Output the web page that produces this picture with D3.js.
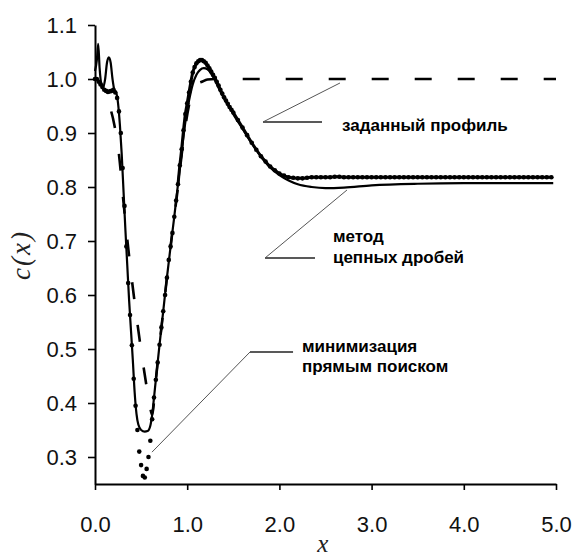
<!DOCTYPE html>
<html><head><meta charset="utf-8">
<script src="https://cdn.jsdelivr.net/npm/d3@7"></script>
<style>
html,body{margin:0;padding:0;background:#fff;}
svg{display:block;}
</style></head>
<body>
<svg id="chart" width="573" height="559"></svg>
<script>
// ---------- data ----------
const xTickValues = [0, 1, 2, 3, 4, 5];
const yTickValues = [0.3, 0.4, 0.5, 0.6, 0.7, 0.8, 0.9, 1.0, 1.1];

// given profile (dashed)
const profileX = [0, 0.05, 0.10, 0.15, 0.21, 0.26, 0.31, 0.37, 0.42, 0.49, 0.56, 0.60, 0.62, 0.66, 0.70, 0.74, 0.78, 0.82, 0.86, 0.90, 0.94, 0.98, 1.02, 1.06, 1.10, 1.16, 1.22, 1.30, 2.0, 3.0, 4.0, 5.0];
const profileC = [1.0, 0.995, 0.98, 0.955, 0.915, 0.86, 0.77, 0.672, 0.60, 0.51, 0.43, 0.39, 0.378, 0.443, 0.508, 0.57, 0.632, 0.69, 0.745, 0.80, 0.86, 0.912, 0.952, 0.978, 0.99, 0.995, 0.999, 1.0, 1.0, 1.0, 1.0, 1.0];

// continued fractions method (solid)
const fracX = [0, 0.02, 0.035, 0.05, 0.07, 0.09, 0.11, 0.13, 0.15, 0.17, 0.19, 0.21, 0.23, 0.25, 0.27, 0.29, 0.31, 0.33, 0.35, 0.37, 0.39, 0.41, 0.43, 0.45, 0.47, 0.50, 0.54, 0.57, 0.60, 0.62, 0.64, 0.66, 0.70, 0.74, 0.78, 0.82, 0.86, 0.90, 0.94, 0.98, 1.02, 1.06, 1.10, 1.14, 1.18, 1.22, 1.26, 1.30, 1.35, 1.40, 1.45, 1.50, 1.60, 1.70, 1.80, 1.90, 2.00, 2.10, 2.20, 2.35, 2.50, 2.70, 3.00, 3.50, 4.00, 4.50, 4.97];
const fracC = [1.015, 1.035, 1.065, 1.02, 0.99, 0.985, 1.0, 1.03, 1.04, 1.03, 1.0, 0.98, 0.975, 0.955, 0.915, 0.86, 0.79, 0.72, 0.655, 0.59, 0.535, 0.48, 0.42, 0.38, 0.36, 0.35, 0.347, 0.348, 0.358, 0.378, 0.41, 0.443, 0.508, 0.57, 0.632, 0.69, 0.745, 0.805, 0.865, 0.92, 0.96, 0.99, 1.008, 1.017, 1.02, 1.018, 1.01, 0.998, 0.98, 0.964, 0.95, 0.935, 0.908, 0.881, 0.857, 0.836, 0.822, 0.812, 0.805, 0.800, 0.798, 0.799, 0.803, 0.806, 0.807, 0.807, 0.807];

// direct search minimization (markers)
const searchX = [0, 0.02, 0.04, 0.06, 0.08, 0.10, 0.12, 0.14, 0.16, 0.18, 0.20, 0.22, 0.24, 0.26, 0.28, 0.30, 0.32, 0.34, 0.36, 0.38, 0.40, 0.42, 0.44, 0.46, 0.48, 0.50, 0.52, 0.54, 0.56, 0.58, 0.60, 0.62, 0.64, 0.66, 0.68, 0.70, 0.72, 0.74, 0.76, 0.78, 0.80, 0.82, 0.84, 0.86, 0.88, 0.90, 0.92, 0.94, 0.96, 0.98, 1.00, 1.02, 1.04, 1.06, 1.08, 1.10, 1.12, 1.14, 1.16, 1.18, 1.20, 1.22, 1.24, 1.26, 1.28, 1.30, 1.32, 1.34, 1.36, 1.38, 1.40, 1.42, 1.44, 1.46, 1.48,
  1.50, 1.55, 1.60, 1.65, 1.70, 1.75, 1.80, 1.85, 1.90, 1.95, 2.00, 2.05, 2.10, 2.15, 2.20, 2.25, 2.30, 2.35, 2.40, 2.45, 2.50, 2.55, 2.60, 2.65, 2.70, 2.75, 2.80, 2.85, 2.90, 2.95, 3.00, 3.05, 3.10, 3.15, 3.20, 3.25, 3.30, 3.35, 3.40, 3.45, 3.50, 3.55, 3.60, 3.65, 3.70, 3.75, 3.80, 3.85, 3.90, 3.95, 4.00, 4.05, 4.10, 4.15, 4.20, 4.25, 4.30, 4.35, 4.40, 4.45, 4.50, 4.55, 4.60, 4.65, 4.70, 4.75, 4.80, 4.85, 4.90, 4.95];
const searchC = [1.0, 1.0, 0.995, 0.99, 0.985, 0.98, 0.978, 0.976, 0.977, 0.978, 0.98, 0.975, 0.965, 0.94, 0.90, 0.835, 0.765, 0.69, 0.622, 0.563, 0.507, 0.445, 0.395, 0.35, 0.31, 0.285, 0.265, 0.262, 0.278, 0.30, 0.33, 0.37, 0.41, 0.443, 0.475, 0.508, 0.54, 0.57, 0.60, 0.632, 0.665, 0.69, 0.715, 0.745, 0.775, 0.805, 0.84, 0.87, 0.905, 0.935, 0.955, 0.975, 0.995, 1.012, 1.022, 1.029, 1.033, 1.035, 1.035, 1.033, 1.03, 1.025, 1.02, 1.014, 1.008, 1.002, 0.995, 0.988, 0.98, 0.973, 0.966, 0.96, 0.954, 0.948, 0.943,
  0.938, 0.924, 0.91, 0.896, 0.882, 0.869, 0.857, 0.847, 0.838, 0.831, 0.825, 0.821, 0.818, 0.817, 0.816, 0.816, 0.817, 0.818, 0.818, 0.818, 0.818, 0.818, 0.819, 0.819, 0.818, 0.818, 0.818, 0.818, 0.818, 0.818, 0.818, 0.818, 0.818, 0.818, 0.818, 0.818, 0.818, 0.818, 0.818, 0.818, 0.818, 0.818, 0.818, 0.818, 0.818, 0.818, 0.818, 0.818, 0.818, 0.818, 0.818, 0.818, 0.818, 0.818, 0.818, 0.818, 0.818, 0.818, 0.818, 0.818, 0.818, 0.818, 0.818, 0.818, 0.818, 0.818, 0.818, 0.818, 0.818, 0.818];

// annotation texts and anchor points (data units)
const labelTexts = [["заданный профиль"], ["метод", "цепных дробей"], ["минимизация", "прямым поиском"]];
const labelAnchorX = [2.679, 2.581, 2.245];
const labelLineC = [[0.913], [0.709, 0.669], [0.504, 0.467]];
const leaderElbow = [[1.822, 0.9204], [1.844, 0.6685], [1.681, 0.4944]];
const leaderEndX = [2.462, 2.386, 2.148];
const leaderTarget = [[2.657, 0.9926], [2.733, 0.7944], [0.618, 0.309]];

// ---------- layout ----------
const svg = d3.select("#chart");
const x = d3.scaleLinear().domain([0, 5]).range([95, 556]);
const y = d3.scaleLinear().domain([0.25, 1.1]).range([484, 25]);
const tickFont = "'Liberation Sans', Arial, sans-serif";

// axes
const xAxis = d3.axisBottom(x).tickValues(xTickValues).tickFormat(d3.format(".1f")).tickSize(6).tickSizeOuter(0).tickPadding(26);
const gx = svg.append("g").attr("transform", `translate(0,${y(0.25)})`).call(xAxis);
const yAxis = d3.axisLeft(y).tickValues(yTickValues).tickFormat(d3.format(".1f")).tickSize(7).tickSizeOuter(0).tickPadding(11);
const gy = svg.append("g").attr("transform", `translate(${x(0)},0)`).call(yAxis);
[gx, gy].forEach(g => {
  g.select(".domain").attr("stroke", "#000").attr("stroke-width", 2);
  g.selectAll(".tick line").attr("stroke", "#000").attr("stroke-width", 1.6);
  g.selectAll(".tick text").attr("font-family", tickFont).attr("font-size", 22).attr("fill", "#111");
});

// axis titles
svg.append("text").attr("transform", "translate(30,255) rotate(-90)")
  .attr("text-anchor", "middle").attr("font-family", "'Liberation Serif','Times New Roman',serif")
  .attr("font-style", "italic").attr("font-size", 27).attr("letter-spacing", 2).attr("fill", "#222").text("c(x)");
svg.append("text").attr("x", x(2.47)).attr("y", 552)
  .attr("text-anchor", "middle").attr("font-family", "'Liberation Serif','Times New Roman',serif")
  .attr("font-style", "italic").attr("font-size", 25).attr("fill", "#222").text("x");

// curves
const line = d3.line().x(d => x(d[0])).y(d => y(d[1])).curve(d3.curveMonotoneX);
const profile = profileX.map((v, i) => [v, profileC[i]]);
const frac = fracX.map((v, i) => [v, fracC[i]]);
const search = searchX.map((v, i) => [v, searchC[i]]);

const profPath = svg.append("path").datum(profile).attr("d", line)
  .attr("fill", "none").attr("stroke", "#000").attr("stroke-width", 2.6)
  .attr("stroke-dasharray", "17,26");
// align dash phase so a dash starts near x = 1.6
(function () {
  const node = profPath.node();
  const total = node.getTotalLength();
  const targetPx = x(1.6);
  let lo = 0, hi = total;
  for (let k = 0; k < 40; k++) {
    const mid = (lo + hi) / 2;
    if (node.getPointAtLength(mid).x < targetPx) lo = mid; else hi = mid;
  }
  const period = 43;
  profPath.attr("stroke-dashoffset", (period - (lo % period)) % period);
})();

svg.append("path").datum(frac).attr("d", line)
  .attr("fill", "none").attr("stroke", "#000").attr("stroke-width", 2.2).attr("stroke-linejoin", "round");

// dense markers merge into a thick band where the curve is smooth
svg.append("path").datum(search.filter(d => d[0] >= 0.9)).attr("d", line)
  .attr("fill", "none").attr("stroke", "#000").attr("stroke-width", 3);
svg.append("g").selectAll("circle").data(search).join("circle")
  .attr("cx", d => x(d[0])).attr("cy", d => y(d[1])).attr("r", 2.3).attr("fill", "#000");

// annotations
labelTexts.forEach((lines, i) => {
  const ex = x(leaderElbow[i][0]), ey = y(leaderElbow[i][1]);
  svg.append("line").attr("x1", ex).attr("y1", ey).attr("x2", x(leaderEndX[i])).attr("y2", ey)
    .attr("stroke", "#222").attr("stroke-width", 1.3);
  svg.append("line").attr("x1", ex).attr("y1", ey).attr("x2", x(leaderTarget[i][0])).attr("y2", y(leaderTarget[i][1]))
    .attr("stroke", "#555").attr("stroke-width", 1);
  lines.forEach((t, j) => {
    svg.append("text").attr("x", x(labelAnchorX[i])).attr("y", y(labelLineC[i][j]))
      .attr("dominant-baseline", "central").attr("font-family", tickFont).attr("font-weight", "bold")
      .attr("font-size", 17).attr("fill", "#000").text(t);
  });
});
</script>
</body></html>
